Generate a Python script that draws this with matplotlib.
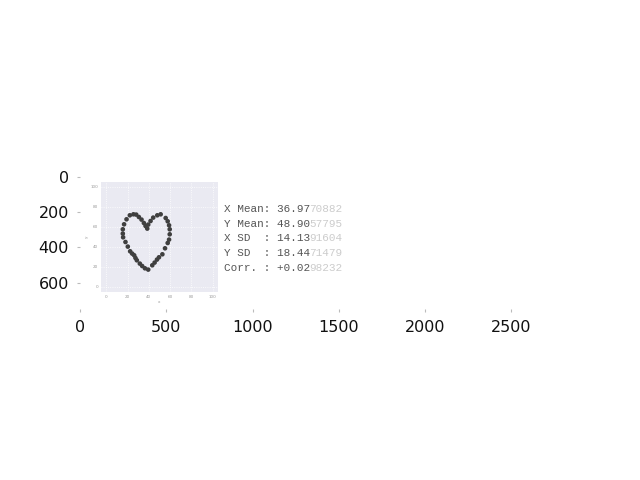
import matplotlib
matplotlib.use("Agg")
import matplotlib.pyplot as plt

# heart points
heart_x = [15.5, 15.5, 15.8, 16.7, 19.0, 22.1, 25.5, 28.1, 30.6, 33.1, 35.3, 36.9,
           38.5, 39.4, 41.6, 44.1, 47.9, 51.1, 55.8, 57.7, 59.0, 59.6, 59.6, 59.0,
           57.7, 55.2, 52.7, 49.5, 47.6, 45.4, 43.2, 39.4, 36.3, 33.7, 31.5, 28.7,
           27.4, 26.2, 24.3, 22.4, 20.2, 18.0]
heart_y = [57.7, 53.4, 49.7, 62.7, 67.7, 71.7, 72.7, 72.4, 70.0, 67.4, 64.0, 61.0,
           58.4, 62.4, 66.0, 69.4, 71.7, 72.7, 69.0, 65.7, 61.7, 57.7, 52.7, 47.4,
           44.0, 38.7, 32.7, 29.7, 27.4, 24.4, 21.7, 17.4, 18.7, 21.0, 23.4, 26.7,
           29.0, 31.7, 33.4, 35.7, 40.4, 45.0]

stat_names = ["X Mean", "Y Mean", "X SD  ", "Y SD  ", "Corr. "]
stat_shown = ["36.97", "48.90", "14.13", "18.44", "+0.02"]
stat_faded = ["70882", "57795", "91604", "71479", "98232"]

outer_xticks = [0, 500, 1000, 1500, 2000, 2500]
outer_yticks = [0, 200, 400, 600]
inner_ticks = [0, 20, 40, 60, 80, 100]

W, H = 640, 480
fig = plt.figure(figsize=(6.4, 4.8), dpi=100)

# outer axes (the image frame)
ax = fig.add_axes([80 / W, 1 - 309 / H, 497 / W, 132 / H])
ax.set_xlim(0, 2880)
ax.set_ylim(750, 0)
ax.set_xticks(outer_xticks)
ax.set_yticks(outer_yticks)
for s in ax.spines.values():
    s.set_visible(False)
ax.tick_params(length=2, color="#bbbbbb", labelsize=11.5, labelcolor="#111111", pad=6)

# inner scatter plot
ia = fig.add_axes([101 / W, 1 - 292 / H, 117 / W, 110 / H])
ia.set_facecolor("#eaeaf2")
ia.set_xlim(-5, 105)
ia.set_ylim(-5, 105)
ia.set_xticks(inner_ticks)
ia.set_yticks(inner_ticks)
ia.grid(True, color="white", lw=0.6, ls=":")
ia.set_axisbelow(True)
for s in ia.spines.values():
    s.set_visible(False)
ia.tick_params(length=0, labelsize=3, labelcolor="#999999", pad=2)
ia.set_xlabel("x", fontsize=3, color="#999999", labelpad=1)
ia.set_ylabel("y", fontsize=3, color="#999999", labelpad=1)
ia.scatter(heart_x, heart_y, s=11, color="#3f3f3f", edgecolors="none")

# stats text
char_w = 6.55
line_y = [209, 224, 238, 253, 268]
for i in range(len(stat_names)):
    y = 1 - line_y[i] / H
    head = stat_names[i] + ": " + stat_shown[i]
    fig.text(224 / W, y, head, family="Liberation Mono", fontsize=7.9,
             color="#555555", va="center")
    fig.text((224 + len(head) * char_w) / W, y, stat_faded[i], family="Liberation Mono",
             fontsize=7.9, color="#cccccc", va="center")

plt.savefig("out.png", dpi=100)
